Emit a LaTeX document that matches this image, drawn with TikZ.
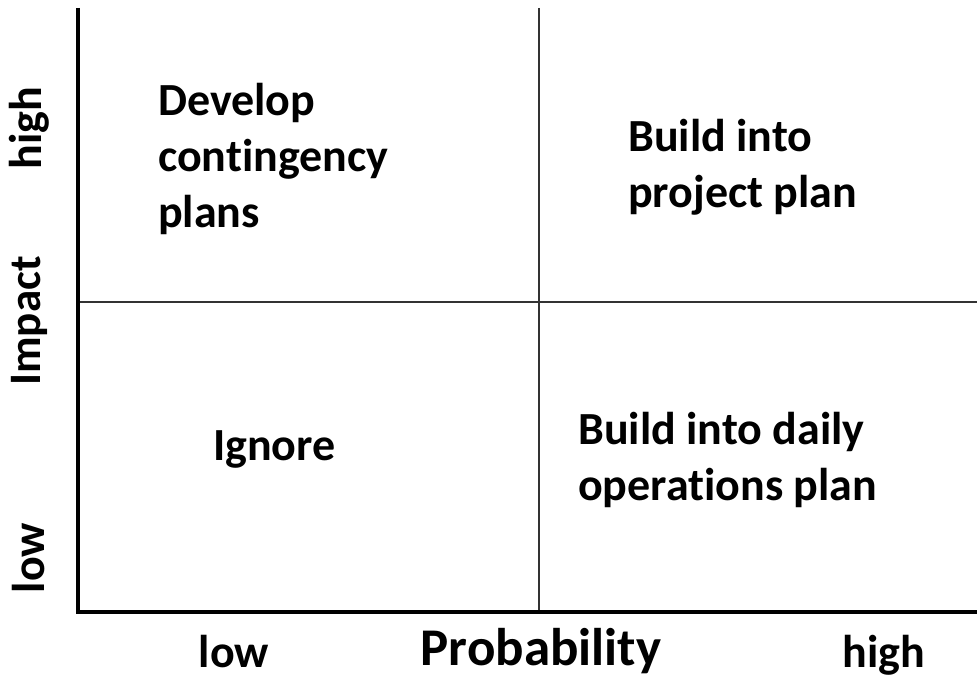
\documentclass[tikz,border=0pt]{standalone}
\usepackage{fontspec}
\setmainfont{Carlito}[Ligatures=NoCommon]
\usepackage{tikz}
\usetikzlibrary{positioning,calc}

\tikzset{
    axis/.style={line width=4.5pt, line join=miter, black},
    divider/.style={line width=1.5pt, black!80},
    quad/.style={inner sep=0pt, align=left, font=\fontsize{46}{56}\selectfont\bfseries},
    tick/.style={inner sep=0pt, font=\fontsize{46}{56}\selectfont\bfseries},
    axlabel/.style={inner sep=0pt, font=\fontsize{53}{60}\selectfont\bfseries}
}

\begin{document}
\begin{tikzpicture}[x=1pt,y=-1pt]
    \useasboundingbox (0,0) rectangle (977,677);

    % corner points of the grid
    \coordinate (O) at (78,612);
    \coordinate (Ytop) at (78,8);
    \coordinate (Xend) at (977,612);
    \coordinate (Vtop) at (539,8);
    \coordinate (Vbot) at (539,612);
    \coordinate (Hleft) at (78,302);
    \coordinate (Hright) at (977,302);

    % the four fields
    \draw[divider] (Vtop) -- (Vbot);
    \draw[divider] (Hleft) -- (Hright);
    \draw[axis] (Ytop) -- (O) -- (Xend);

    % what to do in each field
    \node[quad, anchor=north west] (dev) at (158,83) {Develop\\contingency\\plans};
    \node[quad, anchor=north west] (proj) at (628,119) {Build into\\project plan};
    \node[quad, anchor=base west] (ign) at (213,460) {Ignore};
    \node[quad, anchor=north west] (daily) at (578,412) {Build into daily\\operations plan};

    % vertical axis
    \node[tick, rotate=90] (yhigh) at (29,128) {high};
    \node[axlabel, rotate=90, font=\fontsize{45}{54}\selectfont\bfseries] (ylab) at (29,321) {Impact};
    \node[tick, rotate=90] (ylow) at (29,558) {low};

    % horizontal axis
    \node[tick, anchor=base] (xlow) at (234,667) {low};
    \node[axlabel, anchor=base] (xlab) at (541,665) {Probability};
    \node[tick, anchor=base] (xhigh) at (884,667) {high};
\end{tikzpicture}
\end{document}
